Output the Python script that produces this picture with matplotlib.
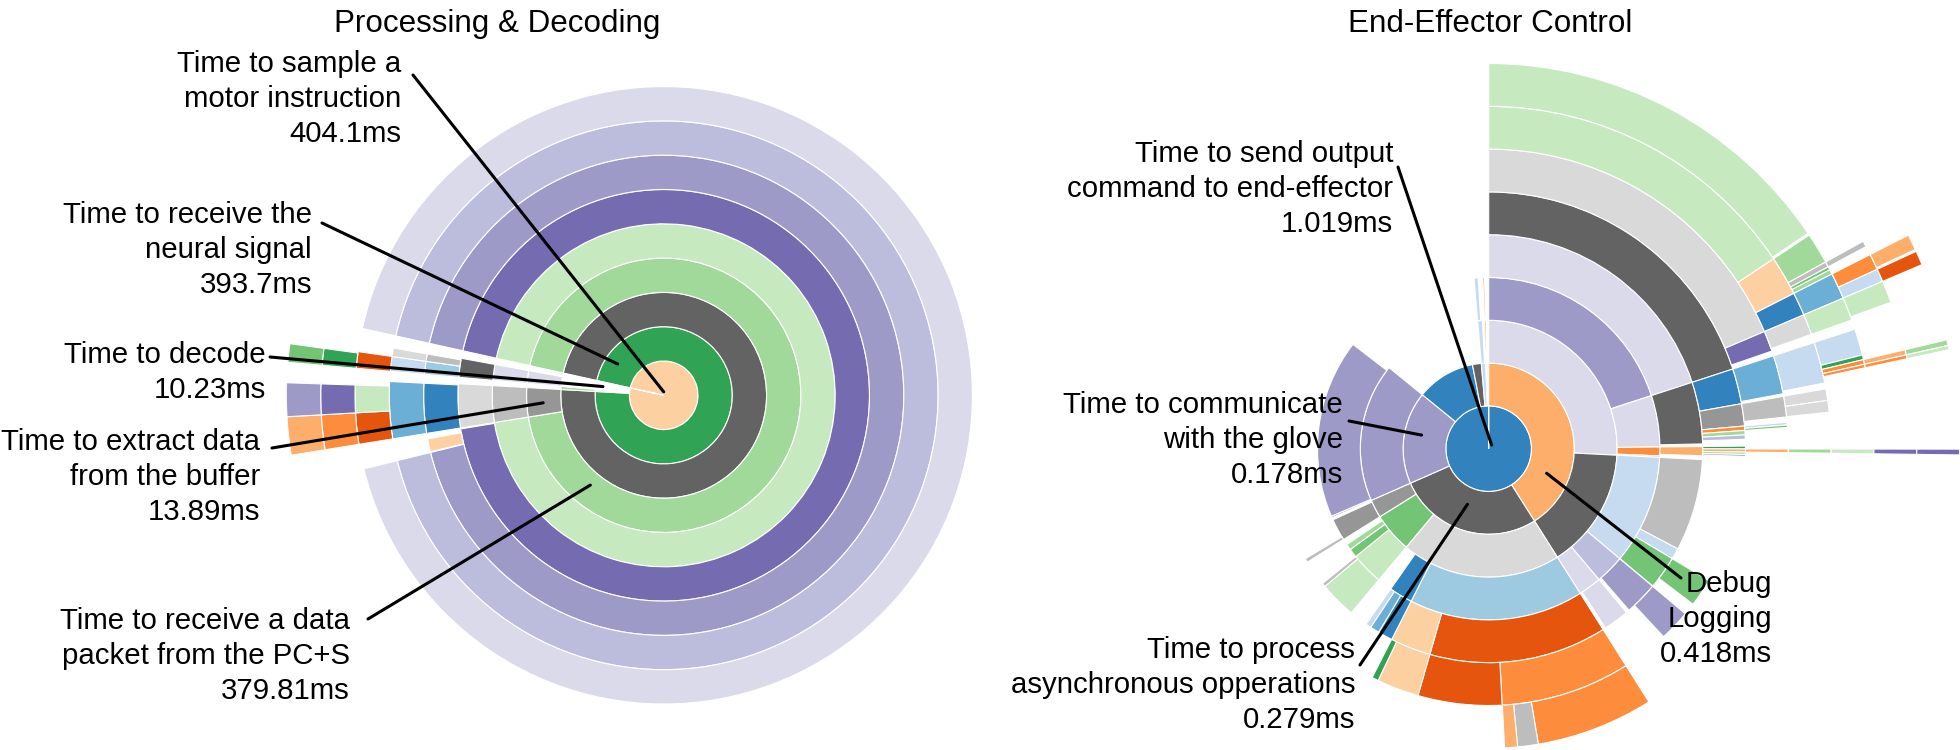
import numpy as np
import matplotlib.pyplot as plt

plt.rcParams['font.family'] = ['Liberation Sans', 'DejaVu Sans']

W, H = 1960, 750

# ---------------- Processing & Decoding (values in ms) ----------------
pd_ids = ['root', 'neural', 'decode', 'sig', 'packet', 'extract',
          'pk4', 'pk5', 'pk6', 'pk6gap', 'pk6b', 'pk7', 'pk8',
          'ex4', 'ex5', 'ex6', 'ex7', 'ex8a', 'ex8b', 'ex9a', 'ex9b', 'ex10a', 'ex10b',
          'dc2a', 'dc2b', 'dc3', 'dc4', 'dc5', 'dc6a', 'dc6b', 'dc7a', 'dc7b',
          'dc8a', 'dc9a', 'dc10a']
pd_parents = ['', 'root', 'root', 'neural', 'sig', 'sig',
              'packet', 'pk4', 'pk5', 'pk5', 'pk5', 'pk6', 'pk7',
              'extract', 'ex4', 'ex5', 'ex6', 'ex7', 'ex7', 'ex8a', 'ex8b', 'ex9a', 'ex9b',
              'decode', 'decode', 'dc2b', 'dc3', 'dc4', 'dc5', 'dc5', 'dc6a', 'dc6b',
              'dc7a', 'dc8a', 'dc9a']
pd_values = [404.1, 393.7, 10.23, 393.7, 379.81, 13.89,
             379.81, 379.5, 374.6, 0.2, 3.5, 374.6, 374.6,
             13.89, 13.89, 13.5, 13.5, 6.6, 5.8, 6.6, 5.8, 6.6, 5.8,
             2.0, 8.0, 6.0, 6.0, 6.0, 3.5, 2.0, 3.5, 2.0,
             3.5, 3.2, 3.2]
pd_colors = ['#fdd0a2', '#31a354', '#ffffff', '#636363', '#a1d99b', '#969696',
             '#c7e9c0', '#756bb1', '#9e9ac8', None, '#fdd0a2', '#bcbddc', '#dadaeb',
             '#bdbdbd', '#d9d9d9', '#3182bd', '#6baed6', '#e6550d', '#c7e9c0',
             '#fd8d3c', '#756bb1', '#fdae6b', '#9e9ac8',
             '#a1d99b', '#ffffff', '#dadaeb', '#dadaeb', '#636363', '#9ecae1', '#bdbdbd',
             '#c6dbef', '#d9d9d9', '#e6550d', '#31a354', '#74c476']

# ---------------- End-Effector Control (values in microseconds) ----------------
ee_ids = ['root', 'debug', 'async', 'glove', 'send', 'e1', 'f1', 'g1',
          # debug logging
          'a1', 'a2', 'a1a', 'a1b', 'a1c', 'a1d',
          'a1a4', 'a1a5', 'a6a', 'a6b', 'a7a', 'a7b', 'a7c', 'a7d',
          'a8a', 'a8b', 'a8b2', 'a8b3', 'a8b4', 'a8c', 'a8d', 'a9b', 'a9c', 'a9c2', 'a9d',
          'a10c', 'a10c2',
          'b4', 'b5a', 'b5b', 'b5c', 'b5d', 'b5e', 'b6a', 'b7a', 'b8a', 'b8b', 'b8c', 'b8d',
          'b9c', 'b9d', 'b10c', 'b10d', 'b6b', 'b7b', 'b7c', 'b6c', 'b6d',
          'c4', 'c5a', 'c5b', 'c5c', 'c5d', 'c6', 'c7', 'c8', 'c9', 'c10',
          'a2a', 'a2b', 'a2c', 'a2a4', 'a2a4b', 'a2a4c', 'a2b4', 'a2c4', 'a2a5', 'a2b5',
          # asynchronous operations
          's2a', 's2b', 's2c', 's3a', 's3b', 's3gap', 's4a', 's4b', 's5a', 's5b', 's6a', 's6b', 's6c',
          's5c', 's5d', 's4c', 's4d', 's4e',
          's3c', 's3d', 's3e', 's4f', 's4g', 's3f', 's4h',
          # glove
          'gl2', 'gl3a', 'gl3b',
          # output command and small tail slices
          'd2gap', 'd2', 'd3',
          'f2', 'f3', 'g2', 'g3']
ee_parents = ['', 'root', 'root', 'root', 'root', 'root', 'root', 'root',
              'debug', 'debug', 'a1', 'a1', 'a1', 'a1',
              'a1a', 'a1a4', 'a1a5', 'a1a5', 'a6a', 'a6a', 'a6a', 'a6b',
              'a7a', 'a7b', 'a7b', 'a7b', 'a7b', 'a7c', 'a7d', 'a8b2', 'a8c', 'a8c', 'a8d',
              'a9c', 'a9c2',
              'a1b', 'b4', 'b4', 'b4', 'b4', 'b4', 'b5a', 'b6a', 'b7a', 'b7a', 'b7a', 'b7a',
              'b8c', 'b8d', 'b9c', 'b9d', 'b5b', 'b6b', 'b6b', 'b5c', 'b5c',
              'a1c', 'c4', 'c4', 'c4', 'c4', 'c5b', 'c6', 'c7', 'c8', 'c9',
              'a2', 'a2', 'a2', 'a2a', 'a2a', 'a2a', 'a2b', 'a2c', 'a2a4c', 'a2b4',
              'async', 'async', 'async', 's2a', 's2a', 's2a', 's3a', 's3a', 's4a', 's4a', 's5a', 's5a', 's5a',
              's4b', 's4b', 's3b', 's3b', 's3b',
              's2b', 's2b', 's2b', 's3c', 's3c', 's2c', 's3f',
              'glove', 'gl2', 'gl2',
              'send', 'send', 'd2',
              'f1', 'f2', 'g1', 'g2']
ee_values = [1019, 418, 279, 178, 113, 17, 8.5, 2.3,
             263, 155, 203.6, 49.5, 8.5, 1.4,
             203.6, 203.6, 189.6, 11.3, 159.4, 19.0, 11.2, 9.9,
             158.5, 13.3, 2.3, 1.4, 2.0, 11.2, 9.9, 2.3, 6.2, 5.0, 8.5,
             5.5, 5.0,
             47.5, 22.6, 14.2, 2.8, 2.8, 2.8, 21.2, 19.8, 11.3, 2.0, 2.0, 1.5,
             2.0, 1.5, 2.0, 1.5, 11.3, 5.6, 5.6, 1.5, 1.3,
             7.0, 1.8, 2.0, 1.5, 1.2, 2.0, 2.0, 2.0, 2.0, 2.0,
             105, 28, 22, 70.8, 8.5, 25.5, 25.5, 19.8, 18.0, 20.0,
             204.6, 51, 23.4, 167.8, 22.6, 14.2, 136.7, 31.1, 83, 53.8, 64.5, 11.3, 7.1,
             27.0, 4.2, 11.3, 7.1, 4.2,
             31.1, 8.5, 5.7, 28.3, 2.8, 21.2, 3.0,
             178, 1.5, 172,
             6.5, 0.8, 0.8,
             6.0, 4.0, 2.0, 1.5]
ee_colors = ['#3182bd', '#fdae6b', '#636363', '#9e9ac8', '#3182bd', '#636363', '#c6dbef', '#fd8d3c',
             '#dadaeb', '#636363', '#9e9ac8', '#dadaeb', '#fd8d3c', '#9e9ac8',
             '#dadaeb', '#636363', '#d9d9d9', '#756bb1', '#c7e9c0', '#fdd0a2', '#3182bd', '#d9d9d9',
             '#c7e9c0', '#a1d99b', '#bdbdbd', '#74c476', '#a1d99b', '#6baed6', '#c7e9c0',
             '#bdbdbd', '#fd8d3c', '#c6dbef', '#c7e9c0',
             '#fdae6b', '#e6550d',
             '#636363', '#3182bd', '#969696', '#fd8d3c', '#a1d99b', '#bcbddc', '#6baed6', '#c6dbef',
             '#c6dbef', '#31a354', '#fd8d3c', '#fd8d3c', '#fdae6b', '#fd8d3c', '#a1d99b', '#c7e9c0',
             '#bdbdbd', '#d9d9d9', '#d9d9d9', '#c6dbef', '#74c476',
             '#fdae6b', '#31a354', '#fdae6b', '#a1d99b', '#9e9ac8', '#fdae6b', '#a1d99b', '#c7e9c0',
             '#756bb1', '#756bb1',
             '#c6dbef', '#bcbddc', '#dadaeb', '#bdbdbd', '#c6dbef', '#74c476', '#9e9ac8', '#dadaeb',
             '#74c476', '#9e9ac8',
             '#d9d9d9', '#74c476', '#969696', '#9ecae1', '#3182bd', None, '#e6550d', '#fdd0a2',
             '#fd8d3c', '#e6550d', '#fd8d3c', '#bdbdbd', '#fdae6b',
             '#fdd0a2', '#31a354', '#3182bd', '#6baed6', '#c6dbef',
             '#c7e9c0', '#74c476', '#a1d99b', '#c7e9c0', '#bdbdbd', '#969696', '#bdbdbd',
             '#9e9ac8', '#756bb1', '#9e9ac8',
             None, '#ffffff', '#bcbddc',
             '#c6dbef', '#c6dbef', '#fd8d3c', '#fd8d3c']


def layout(ids, parents, values):
    total = values[0]
    cursor, level, pos = {}, {}, {}
    for i, p, v in zip(ids, parents, values):
        if p == '':
            s, lv = 0.0, 0
        else:
            s, lv = cursor[p], level[p] + 1
            cursor[p] += v
        cursor[i], level[i] = s, lv
        pos[i] = (2 * np.pi * s / total, 2 * np.pi * v / total, lv)
    return pos


def sunburst(ax, ids, parents, values, colors):
    pos = layout(ids, parents, values)
    for i, c in zip(ids, colors):
        if c is None:
            continue
        th, w, lv = pos[i]
        ax.bar(th, 1, width=w, bottom=lv, align='edge', color=c,
               edgecolor='white', linewidth=0.8)
    return pos


def polar_axes(cx, cy, ring_px, offset_deg):
    r = 11 * ring_px
    ax = fig.add_axes([(cx - r) / W, (H - cy - r) / H, 2 * r / W, 2 * r / H],
                      projection='polar')
    ax.set_theta_offset(np.deg2rad(offset_deg))
    ax.set_theta_direction(-1)
    ax.set_ylim(0, 11)
    ax.set_axis_off()
    return ax


def label(ax, pos, node, frac, rr, start, lines, right, base, fs=21.2):
    th, w, lv = pos[node]
    ax.annotate('', xy=(th + frac * w, lv + rr), xycoords='data',
                xytext=(start[0], H - start[1]), textcoords='figure pixels',
                arrowprops=dict(arrowstyle='-', color='black', lw=2.2,
                                shrinkA=0, shrinkB=0))
    for k, s in enumerate(lines):
        fig.text(right / W, 1 - (base + 35 * k) / H, s, ha='right',
                 va='baseline', fontsize=fs)


fig = plt.figure(figsize=(W / 100, H / 100), dpi=100)

ax1 = polar_axes(663.7, 395.3, 34.3, 167.5)
p1 = sunburst(ax1, pd_ids, pd_parents, pd_values, pd_colors)

ax2 = polar_axes(1488.7, 448.7, 42.8, 90)
p2 = sunburst(ax2, ee_ids, ee_parents, ee_values, ee_colors)

fig.text(497 / W, 1 - 32 / H, 'Processing & Decoding', ha='center', va='baseline', fontsize=22.6)
fig.text(1490 / W, 1 - 32 / H, 'End-Effector Control', ha='center', va='baseline', fontsize=22.6)

label(ax1, p1, 'root', 77.5 / 360, 0.1, (413, 75),
      ['Time to sample a', 'motor instruction', '404.1ms'], 401, 72)
label(ax1, p1, 'neural', 0.062, 0.62, (322, 223),
      ['Time to receive the', 'neural signal', '393.7ms'], 312, 223)
label(ax1, p1, 'decode', 0.54, 0.79, (270, 357),
      ['Time to decode', '10.23ms'], 266, 363)
label(ax1, p1, 'extract', 0.45, 0.52, (272, 448),
      ['Time to extract data', 'from the buffer', '13.89ms'], 260, 450)
label(ax1, p1, 'packet', 0.877, 0.38, (368, 619),
      ['Time to receive a data', 'packet from the PC+S', '379.81ms'], 350, 629)

label(ax2, p2, 'root', 39 / 360, 0.11, (1398, 167),
      ['Time to send output', 'command to end-effector', '1.019ms'], 1393, 162)
label(ax2, p2, 'glove', 0.56, 0.6, (1349, 421),
      ['Time to communicate', 'with the glove', '0.178ms'], 1343, 413)
label(ax2, p2, 'async', 0.54, 0.39, (1360, 665),
      ['Time to process', 'asynchronous opperations', '0.279ms'], 1355, 658)
label(ax2, p2, 'debug', 0.765, 0.47, (1681, 578),
      ['Debug', 'Logging', '0.418ms'], 1772, 592)

fig.savefig('out.png', dpi=100)
